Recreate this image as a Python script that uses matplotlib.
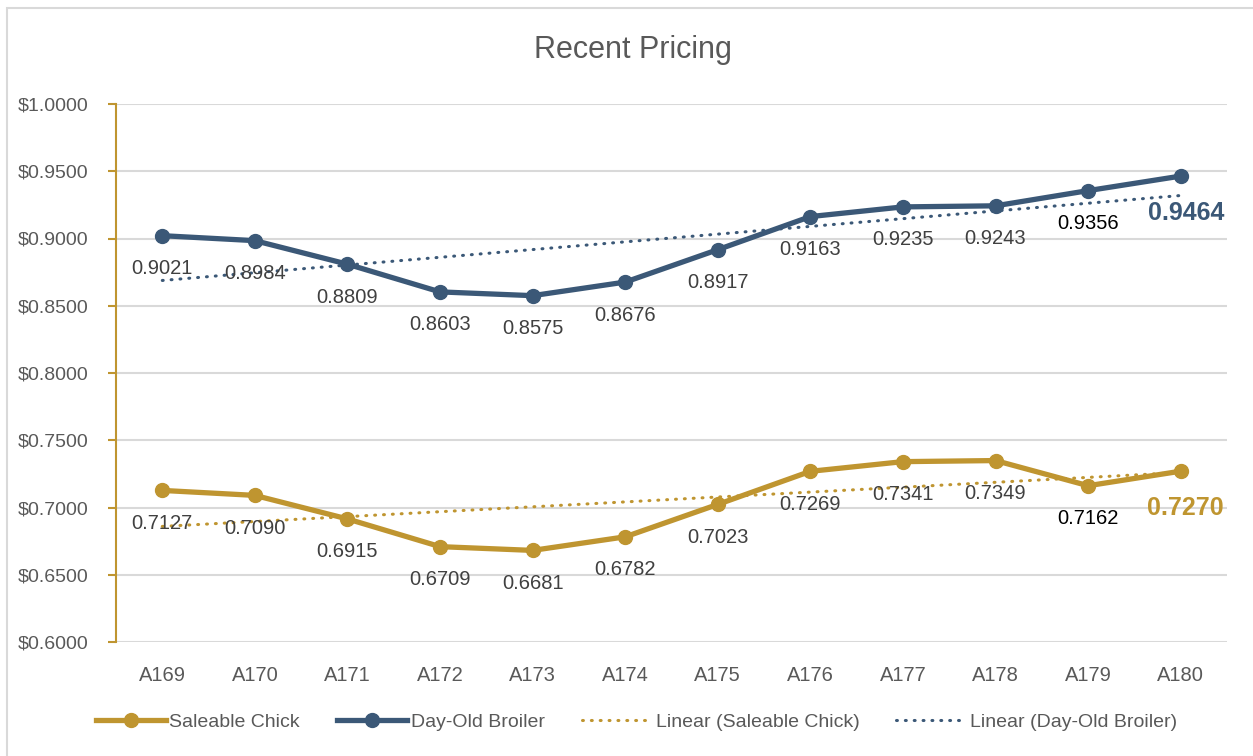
import matplotlib
matplotlib.use("Agg")
import matplotlib.pyplot as plt
import numpy as np
from matplotlib.patches import Rectangle

plt.rcParams['font.family'] = ['Liberation Sans Narrow', 'Liberation Sans', 'DejaVu Sans']

categories = ["A169", "A170", "A171", "A172", "A173", "A174", "A175", "A176", "A177", "A178", "A179", "A180"]
saleable_chick = [0.7127, 0.7090, 0.6915, 0.6709, 0.6681, 0.6782, 0.7023, 0.7269, 0.7341, 0.7349, 0.7162, 0.7270]
day_old_broiler = [0.9021, 0.8984, 0.8809, 0.8603, 0.8575, 0.8676, 0.8917, 0.9163, 0.9235, 0.9243, 0.9356, 0.9464]
y_ticks = [0.60, 0.65, 0.70, 0.75, 0.80, 0.85, 0.90, 0.95, 1.00]

GOLD = "#BF9530"
BLUE = "#3B5877"
LABEL = "#404040"
AXTXT = "#595959"
GRID = "#D9D9D9"

fig = plt.figure(figsize=(12.53, 7.56), dpi=100)
ax = fig.add_axes([116/1253, 1-642/756, (1227-116)/1253, (642-104)/756])

x = np.arange(len(categories))

# trend lines
trend_handles = []
for vals, col, lab in [(saleable_chick, GOLD, "Linear (Saleable Chick)"),
                       (day_old_broiler, BLUE, "Linear (Day-Old Broiler)")]:
    p = np.polyfit(x, vals, 1)
    h, = ax.plot(x, np.polyval(p, x), linestyle=(0, (0.3, 2.6)), color=col, lw=2.2,
                 dash_capstyle='round', zorder=3, label=lab)
    trend_handles.append(h)

l1, = ax.plot(x, saleable_chick, color=GOLD, lw=3.8, marker='o', ms=10, zorder=4, label="Saleable Chick")
l2, = ax.plot(x, day_old_broiler, color=BLUE, lw=3.8, marker='o', ms=10, zorder=4, label="Day-Old Broiler")

# data labels
for vals, col in [(saleable_chick, GOLD), (day_old_broiler, BLUE)]:
    n = len(vals)
    for i, v in enumerate(vals):
        if i == n - 1:
            ax.annotate(f"{v:.4f}", (i, v), xytext=(5, -37), textcoords='offset pixels',
                        ha='center', va='center', fontsize=18, fontweight='bold', color=col, zorder=5)
        else:
            c = "#000000" if i == n - 2 else LABEL
            ax.annotate(f"{v:.4f}", (i, v), xytext=(0, -33), textcoords='offset pixels',
                        ha='center', va='center', fontsize=14.5, color=c, zorder=5)

ax.set_xlim(-0.5, len(categories) - 0.5)
ax.set_ylim(0.6, 1.0)
ax.set_yticks(y_ticks)
ax.set_yticklabels([f"${t:.4f}" for t in y_ticks])
ax.set_xticks(x)
ax.set_xticklabels(categories)
ax.tick_params(axis='y', colors=GOLD, length=6, width=1.5, labelcolor=AXTXT, labelsize=14, pad=14)
ax.tick_params(axis='x', length=0, labelcolor=AXTXT, labelsize=14.5, pad=17)
ax.grid(axis='y', color=GRID, lw=1.5, zorder=0)
ax.set_axisbelow(True)
for s in ['top', 'right', 'bottom']:
    ax.spines[s].set_visible(False)
ax.spines['left'].set_color(GOLD)
ax.spines['left'].set_linewidth(1.5)

fig.text(0.5 + 6/1253, 1 - 50/756, "Recent Pricing", ha='center', va='center', fontsize=22, color=AXTXT)

handles = [l1, l2] + trend_handles
labels = ["Saleable Chick", "Day-Old Broiler", "Linear (Saleable Chick)", "Linear (Day-Old Broiler)"]
fig.legend(handles, labels, loc='center', bbox_to_anchor=(0.508, 1 - 722/756), ncol=4,
           frameon=False, fontsize=14, labelcolor=AXTXT, handlelength=3.6, columnspacing=1.9,
           handletextpad=0.2)

fig.patches.append(Rectangle((7/1253, -0.05), 1.1, 1 - 8/756 + 0.05, transform=fig.transFigure,
                             fill=False, edgecolor=GRID, lw=1.5))

fig.savefig("out.png", dpi=100)
